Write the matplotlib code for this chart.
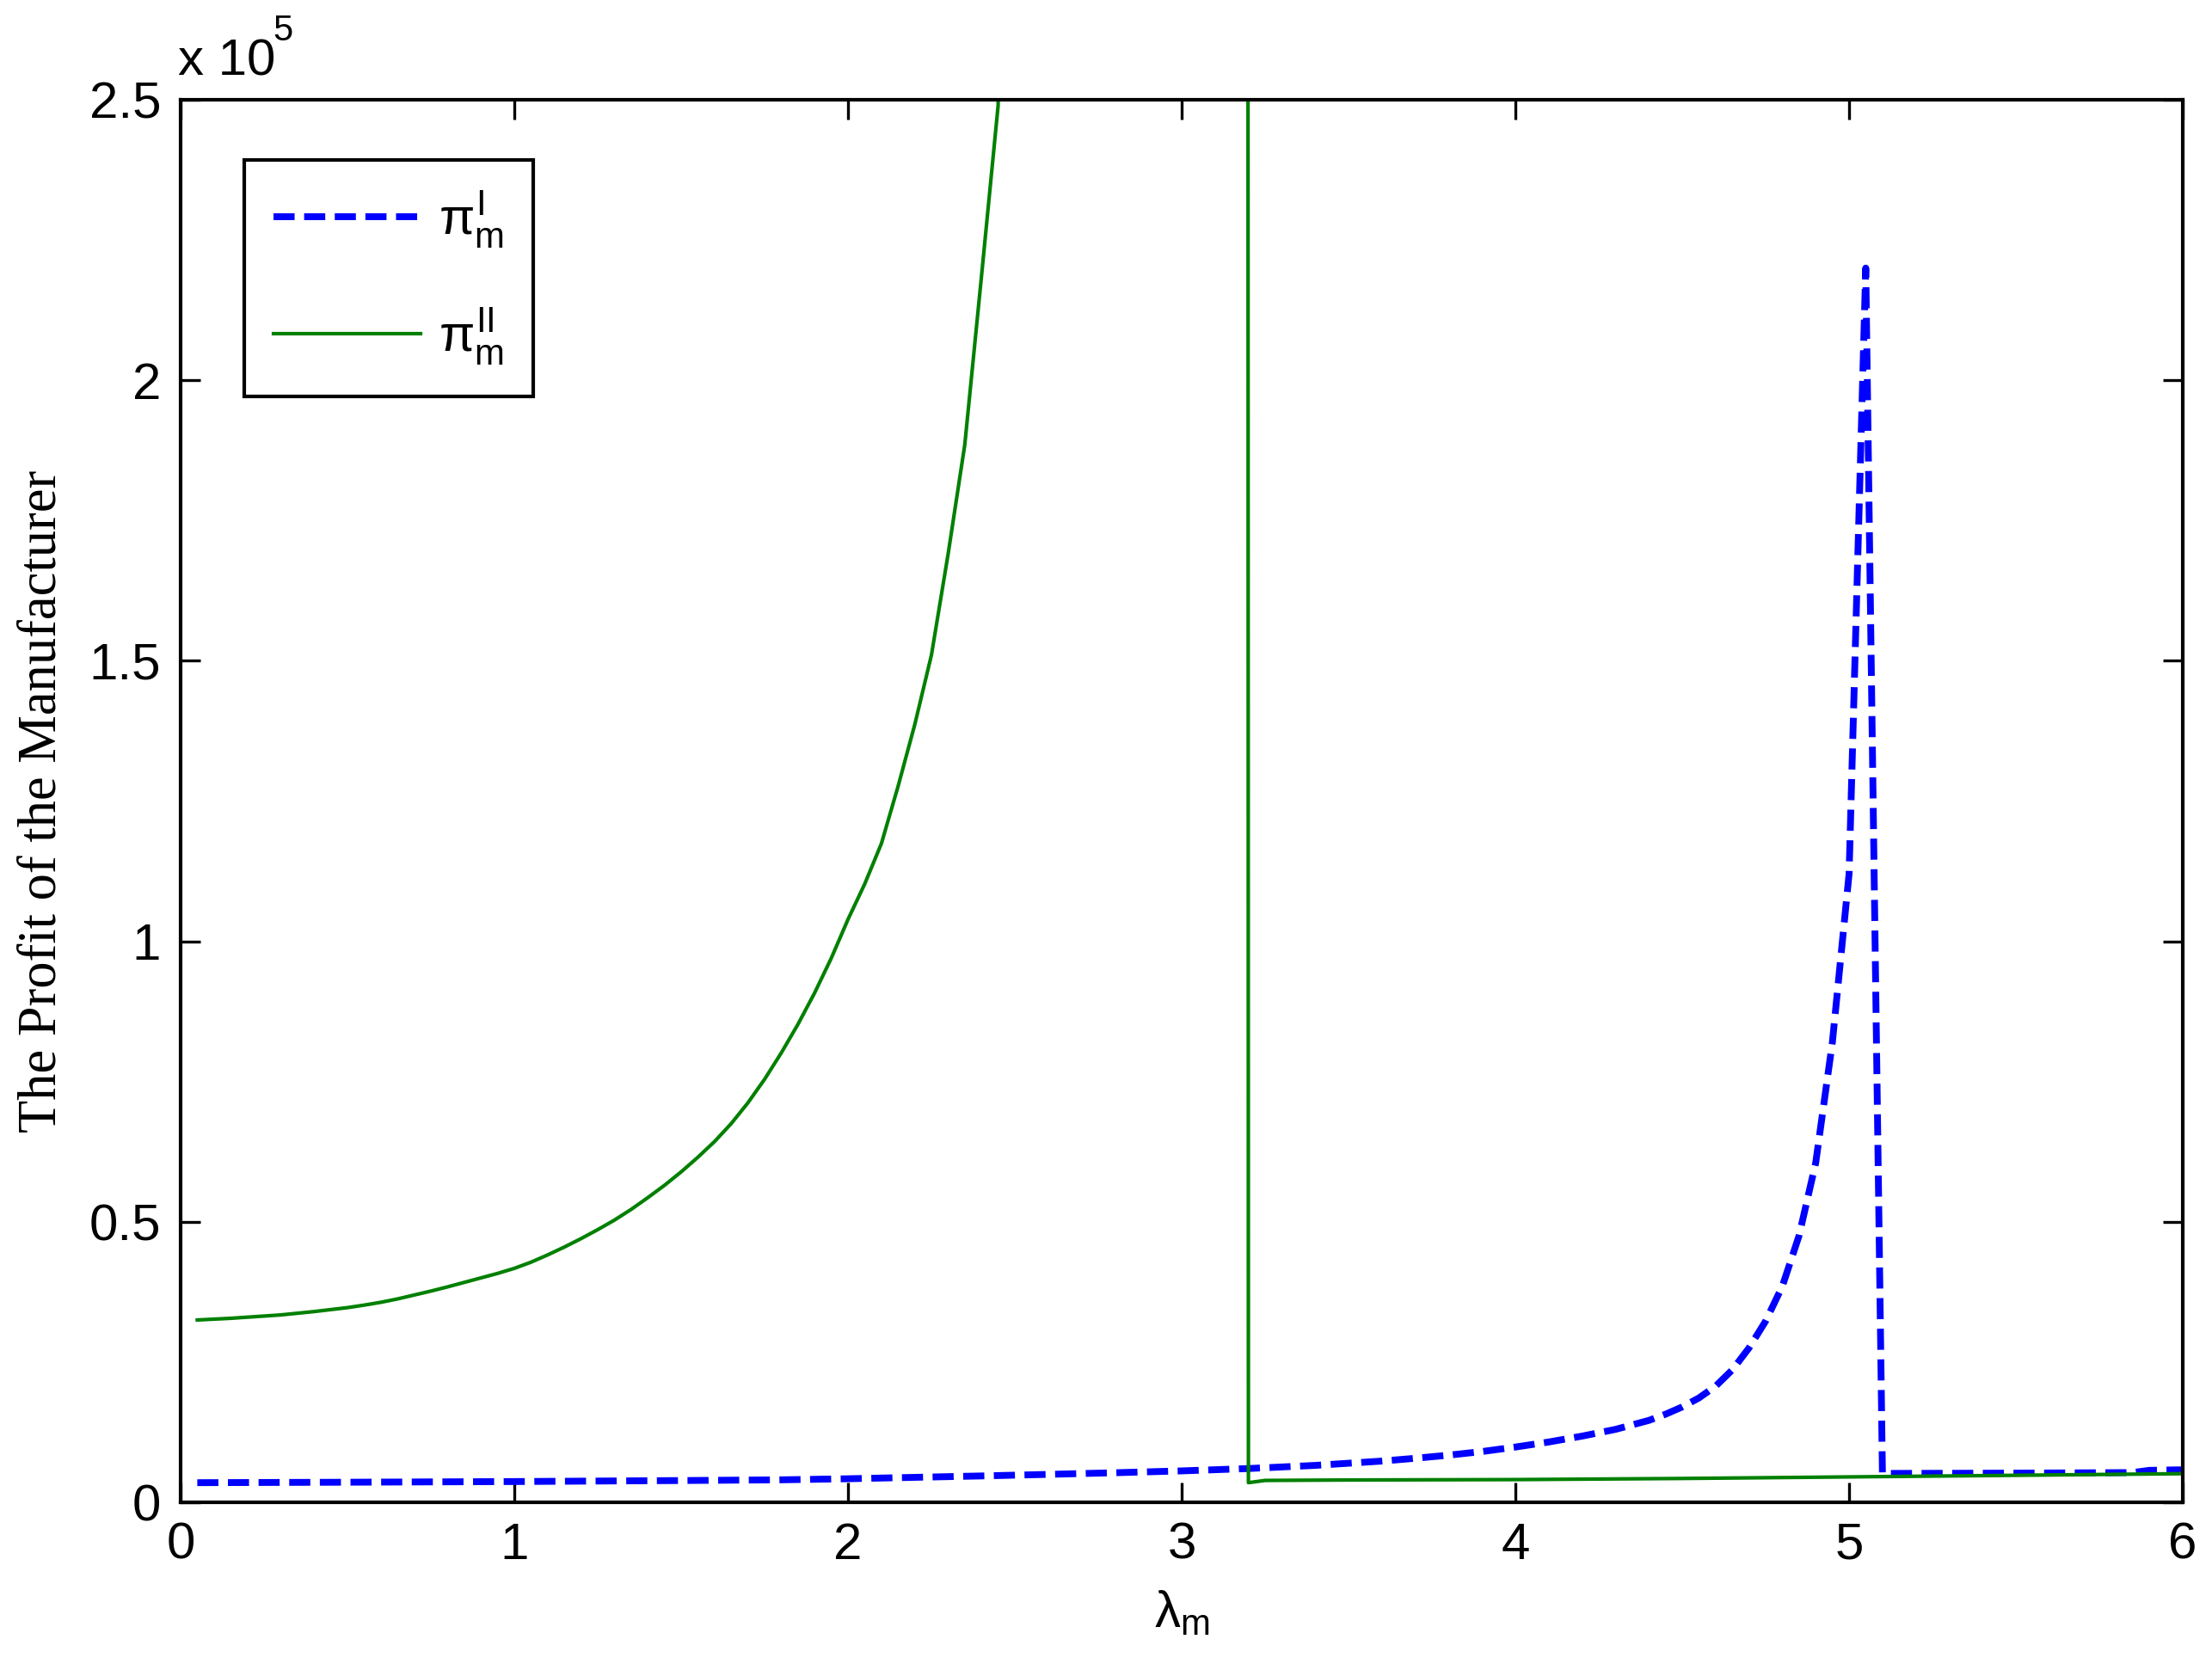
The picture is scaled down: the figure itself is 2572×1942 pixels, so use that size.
import matplotlib
matplotlib.use('Agg')
import matplotlib.pyplot as plt
from matplotlib.ticker import FixedLocator, FuncFormatter

# ---------------- data ----------------
# pi_m^I  (blue dashed)
blue_x = [0.05, 0.50, 1.00, 1.50, 1.80, 2.00, 2.20, 2.40, 2.60, 2.80, 3.00,
          3.20, 3.40, 3.60, 3.70, 3.80, 3.90, 4.00, 4.10, 4.20, 4.30, 4.40, 4.45,
          4.50, 4.55, 4.60, 4.65, 4.70, 4.75, 4.80, 4.85, 4.90, 4.95, 5.00, 5.05,
          5.10, 5.50, 5.85, 5.90, 6.00]
blue_y = [3500, 3580, 3700, 3880, 4010, 4200, 4450, 4700, 4980, 5270, 5600,
          6020, 6580, 7350, 7850, 8400, 9050, 9850, 10750, 11800, 13000, 14600, 15700,
          17000, 18600, 20700, 23600, 27500, 32300, 38500, 47500, 60500, 82000, 112000, 220000,
          5150, 5200, 5300, 5700, 5800]

# pi_m^II (green solid); the branch between 2.5 and 3.15 lies far above the plotted range
green_x = [0.05, 0.10, 0.15, 0.20, 0.25, 0.30, 0.35, 0.40, 0.45, 0.50,
           0.55, 0.60, 0.65, 0.70, 0.75, 0.80, 0.85, 0.90, 0.95, 1.00,
           1.05, 1.10, 1.15, 1.20, 1.25, 1.30, 1.35, 1.40, 1.45, 1.50,
           1.55, 1.60, 1.65, 1.70, 1.75, 1.80, 1.85, 1.90, 1.95, 2.00,
           2.05, 2.10, 2.15, 2.20, 2.25, 2.30, 2.35, 2.40, 2.45, 2.50,
           3.15, 3.20, 3.25, 3.50, 4.00, 4.50, 4.72, 5.00, 5.30, 5.60, 5.87, 6.00]
green_y = [32500, 32650, 32800, 33000, 33200, 33400, 33700, 34000, 34350, 34700,
           35150, 35650, 36250, 36950, 37650, 38400, 39200, 40000, 40800, 41700,
           42800, 44100, 45500, 47000, 48600, 50300, 52200, 54300, 56500, 58900,
           61500, 64300, 67500, 71200, 75400, 80100, 85200, 90800, 97000, 103900,
           110200, 117400, 127600, 138600, 151000, 169000, 188500, 218500, 249000, 1.0e7,
           1.0e7, 3500, 3900, 3980, 4050, 4250, 4370, 4530, 4700, 4870, 5030, 5100]

x_ticks = [0, 1, 2, 3, 4, 5, 6]
y_ticks = [0, 50000, 100000, 150000, 200000, 250000]

labels = [r'$\pi_{m}^{I}\hspace{-0.25}$', r'$\pi_{m}^{II}\hspace{-0.25}$']

# ---------------- style ----------------
plt.rcParams['font.family'] = ['Liberation Sans', 'DejaVu Sans']
plt.rcParams['mathtext.fontset'] = 'custom'
plt.rcParams['mathtext.rm'] = 'Liberation Sans'
plt.rcParams['mathtext.it'] = 'Liberation Sans'
plt.rcParams['mathtext.bf'] = 'Liberation Sans:bold'
plt.rcParams['mathtext.sf'] = 'Liberation Sans'

W, H, DPI = 2572, 1942, 300
FS = 14.4

fig = plt.figure(figsize=(W / DPI, H / DPI), dpi=DPI)
ax = fig.add_axes([210 / W, 1 - 1747 / H, (2538 - 210) / W, (1747 - 116) / H])

ax.plot(blue_x, blue_y, color=(0, 0, 1), lw=1.9, linestyle=(0, (3.1, 1.4)),
        label=labels[0])
ax.plot(green_x, green_y, color=(0, 0.5, 0), lw=1.0, label=labels[1])

ax.set_xlim(0, 6)
ax.set_ylim(0, 250000)
ax.xaxis.set_major_locator(FixedLocator(x_ticks))
ax.yaxis.set_major_locator(FixedLocator(y_ticks))
ax.xaxis.set_major_formatter(FuncFormatter(lambda v, _: f'{v:g}'))
ax.yaxis.set_major_formatter(FuncFormatter(lambda v, _: f'{v / 1e5:g}'))

for s in ax.spines.values():
    s.set_linewidth(1.0)
    s.set_color('black')
ax.tick_params(axis='both', which='major', direction='in', length=5.5, width=0.8,
               top=True, right=True, labelsize=FS, pad=5.5, colors='black')

ax.set_xlabel(r'$\lambda_{m}$', fontsize=FS)
ax.xaxis.set_label_coords(0.5, -0.062)
ax.set_ylabel('The Profit of the Manufacturer', fontsize=15.0,
              family=['Liberation Serif', 'DejaVu Serif'])
ax.yaxis.set_label_coords(-0.0565, 0.5)

# exponent label like MATLAB's "x 10^5"
fig.text(207 / W, 1 - 87 / H, 'x 10', fontsize=FS, va='baseline', ha='left')
fig.text(317 / W, 1 - 47 / H, '5', fontsize=10.0, va='baseline', ha='left')

leg = ax.legend(loc='upper left', bbox_to_anchor=(74 / 2328, 1 - 70 / 1631),
                borderaxespad=0, fontsize=FS, handlelength=2.85, handletextpad=0.35,
                borderpad=0.57, labelspacing=1.1, fancybox=False, framealpha=1,
                edgecolor='black')
leg.get_frame().set_linewidth(1.0)

fig.savefig('out.png', dpi=DPI, facecolor='white')
